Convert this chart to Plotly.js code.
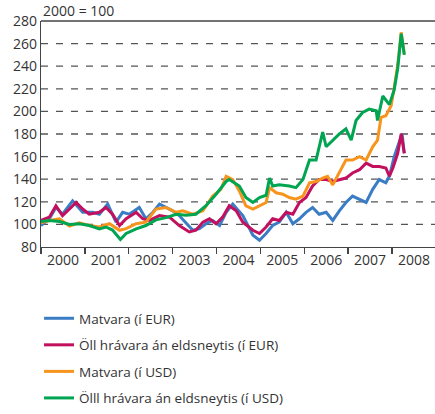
<!DOCTYPE html>
<html>
<head>
<meta charset="utf-8">
<script src="https://cdn.plot.ly/plotly-3.0.1.min.js"></script>
<style>html,body{margin:0;padding:0;background:#fff;}#chart{width:435px;height:414px;}</style>
</head>
<body>
<div id="chart"></div>
<script>
// Matvara (í EUR)
const matEurT = [2000.00,2000.19,2000.34,2000.49,2000.72,2000.95,2001.18,2001.33,2001.52,2001.71,2001.86,2002.01,2002.24,2002.39,2002.55,2002.70,2002.85,2003.00,2003.15,2003.31,2003.46,2003.61,2003.76,2003.91,2004.07,2004.22,2004.37,2004.60,2004.83,2004.98,2005.13,2005.28,2005.43,2005.59,2005.74,2005.89,2006.04,2006.19,2006.34,2006.50,2006.65,2006.80,2006.95,2007.10,2007.26,2007.41,2007.56,2007.71,2007.86,2007.94,2008.05,2008.17,2008.23,2008.28];
const matEur  = [99,105,115,109,120.9,110.7,110.7,109,118,102,110.7,109,115,105,110.7,118,115,112,107.8,100.6,94.8,96.2,100.6,103.5,99,110.7,118,107.8,90.4,86,91.9,99,102,110.7,100.6,105,110.7,115,109,110.7,103.5,112,119.4,125,122.3,119.4,131,139.7,136.8,142.6,160,174.5,180.3,162.9];

// Öll hrávara án eldsneytis (í EUR)
const allEurT = [2000.00,2000.19,2000.34,2000.49,2000.65,2000.80,2000.95,2001.10,2001.33,2001.48,2001.63,2001.79,2001.94,2002.17,2002.32,2002.47,2002.70,2002.93,2003.15,2003.38,2003.53,2003.69,2003.84,2003.99,2004.14,2004.29,2004.45,2004.60,2004.83,2004.98,2005.13,2005.28,2005.43,2005.59,2005.74,2005.89,2006.04,2006.19,2006.34,2006.50,2006.65,2006.80,2006.95,2007.10,2007.26,2007.41,2007.56,2007.71,2007.86,2007.94,2008.02,2008.13,2008.21,2008.28];
const allEur  = [103.5,106.4,116.5,107.8,113.6,119.4,113.6,109,110.7,115,109,99,105,110.7,105,103.5,107.8,106.4,99,93.3,94.8,102,105,100.6,106.4,116.5,112,102,94.8,91.9,97.7,105,103.5,110.7,109,119.4,123.8,134,139.7,139.7,138,139.7,141,145.5,148.4,154.2,151.3,151.3,149.9,142.6,149.9,162.9,180.3,162.9];

// Matvara (í USD)
const matUsdT = [2000.00,2000.19,2000.42,2000.65,2000.87,2001.10,2001.33,2001.56,2001.79,2001.94,2002.17,2002.39,2002.62,2002.85,2003.08,2003.23,2003.46,2003.69,2003.91,2004.10,2004.22,2004.37,2004.52,2004.67,2004.83,2004.98,2005.13,2005.21,2005.36,2005.51,2005.66,2005.81,2005.97,2006.12,2006.27,2006.42,2006.53,2006.65,2006.80,2006.95,2007.10,2007.26,2007.41,2007.56,2007.67,2007.75,2007.86,2007.98,2008.05,2008.13,2008.21,2008.28];
const matUsd  = [101.4,103.5,105,98.6,101.4,99,97.7,100.6,94.8,96.2,100.6,102,113.6,115,110.7,112,109,112,125,131,142.6,139.7,129.6,116.5,113.6,116.5,119.4,132.5,128,126.7,123.8,122.3,125,136.8,138,141,142.6,135,145.5,157,157,160,157,168.7,174.5,194.8,196.2,205,220.9,241,270,251];

// Ölll hrávara án eldsneytis (í USD)
const allUsdT = [2000.00,2000.19,2000.42,2000.65,2000.87,2001.10,2001.33,2001.48,2001.63,2001.81,2001.94,2002.17,2002.39,2002.62,2002.85,2003.08,2003.31,2003.53,2003.76,2003.99,2004.22,2004.29,2004.52,2004.67,2004.83,2004.98,2005.13,2005.21,2005.28,2005.43,2005.66,2005.81,2005.97,2006.12,2006.27,2006.42,2006.50,2006.65,2006.80,2006.95,2007.07,2007.18,2007.33,2007.48,2007.64,2007.67,2007.79,2007.94,2008.05,2008.13,2008.21,2008.28];
const allUsd  = [102.6,103.5,102.6,100,100.6,99,96,97.7,95,86.7,92,96,99,104,106,109,108,109,116.5,126.7,138,139.7,134,123.8,119.4,123.8,125.8,141,134,135,134,132.5,139.7,157,157,181.7,168.7,174.5,180,184.6,174.5,191.9,199,202,200.6,191.9,213.6,206,219,238,268.7,250];

const yTicks = [80,100,120,140,160,180,200,220,240,260,280];
const gridVals = [100,120,140,160,180,200,220,240,260];
const yearLabels = ['2000','2001','2002','2003','2004','2005','2006','2007','2008'];
const yearCenters = [2000.5,2001.5,2002.5,2003.5,2004.5,2005.5,2006.5,2007.5,2008.5];
const seriesNames = ['Matvara (í EUR)','Öll hrávara án eldsneytis (í EUR)','Matvara (í USD)','Ölll hrávara án eldsneytis (í USD)'];
const seriesColors = ['#3b7dc4','#c2105e','#f7941d','#00a551'];

const xs = [matEurT, allEurT, matUsdT, allUsdT];
const ys = [matEur, allEur, matUsd, allUsd];

const traces = xs.map((x, i) => ({
  type: 'scatter', mode: 'lines', x: x, y: ys[i], name: seriesNames[i],
  legendgroup: 'g' + i,
  line: {color: seriesColors[i], width: 3}
}));

const gridShapes = gridVals.map(v => ({
  type: 'line', xref: 'paper', yref: 'y', x0: 0, x1: 1, y0: v, y1: v,
  layer: 'below', line: {color: '#555', width: 1.3, dash: '7px,8px'}
}));

const layout = {
  width: 435, height: 414,
  margin: {l: 41, r: 0, t: 21, b: 163},
  paper_bgcolor: '#fff', plot_bgcolor: '#fff',
  font: {family: '"Open Sans", "Noto Sans", sans-serif', size: 14, color: '#333'},
  showlegend: true,
  legend: {
    x: -0.005, xanchor: 'left', y: -0.25, yanchor: 'top',
    font: {size: 13.5, color: '#333'},
    traceorder: 'grouped', tracegroupgap: 6,
    bgcolor: 'rgba(0,0,0,0)'
  },
  xaxis: {
    range: [2000, 2008.98],
    tickmode: 'array', tickvals: yearCenters, ticktext: yearLabels,
    ticks: '', showgrid: false, zeroline: false,
    showline: true, linecolor: '#444', linewidth: 1.3,
    tickfont: {size: 14, color: '#333'},
    minor: {tick0: 2000, dtick: 1, ticks: 'outside', ticklen: 6, tickcolor: '#444', tickwidth: 1.3, showgrid: false},
    fixedrange: true
  },
  yaxis: {
    range: [80, 280], tickmode: 'array', tickvals: yTicks,
    showgrid: false,
    zeroline: false, showline: true, linecolor: '#444', linewidth: 1.3,
    ticks: '', ticklen: 0, tickfont: {size: 14, color: '#333'},
    fixedrange: true
  },
  shapes: gridShapes.concat([
    {type: 'line', xref: 'paper', yref: 'paper', x0: 0, x1: 1, y0: 1, y1: 1, line: {color: '#444', width: 1.3}}
  ]),
  annotations: [
    {text: '2000 = 100', xref: 'paper', yref: 'paper', x: 0, y: 1, xanchor: 'left', yanchor: 'bottom', yshift: -1, showarrow: false, font: {size: 14, color: '#333'}}
  ]
};

Plotly.newPlot('chart', traces, layout, {displayModeBar: false, staticPlot: true});
</script>
</body>
</html>
